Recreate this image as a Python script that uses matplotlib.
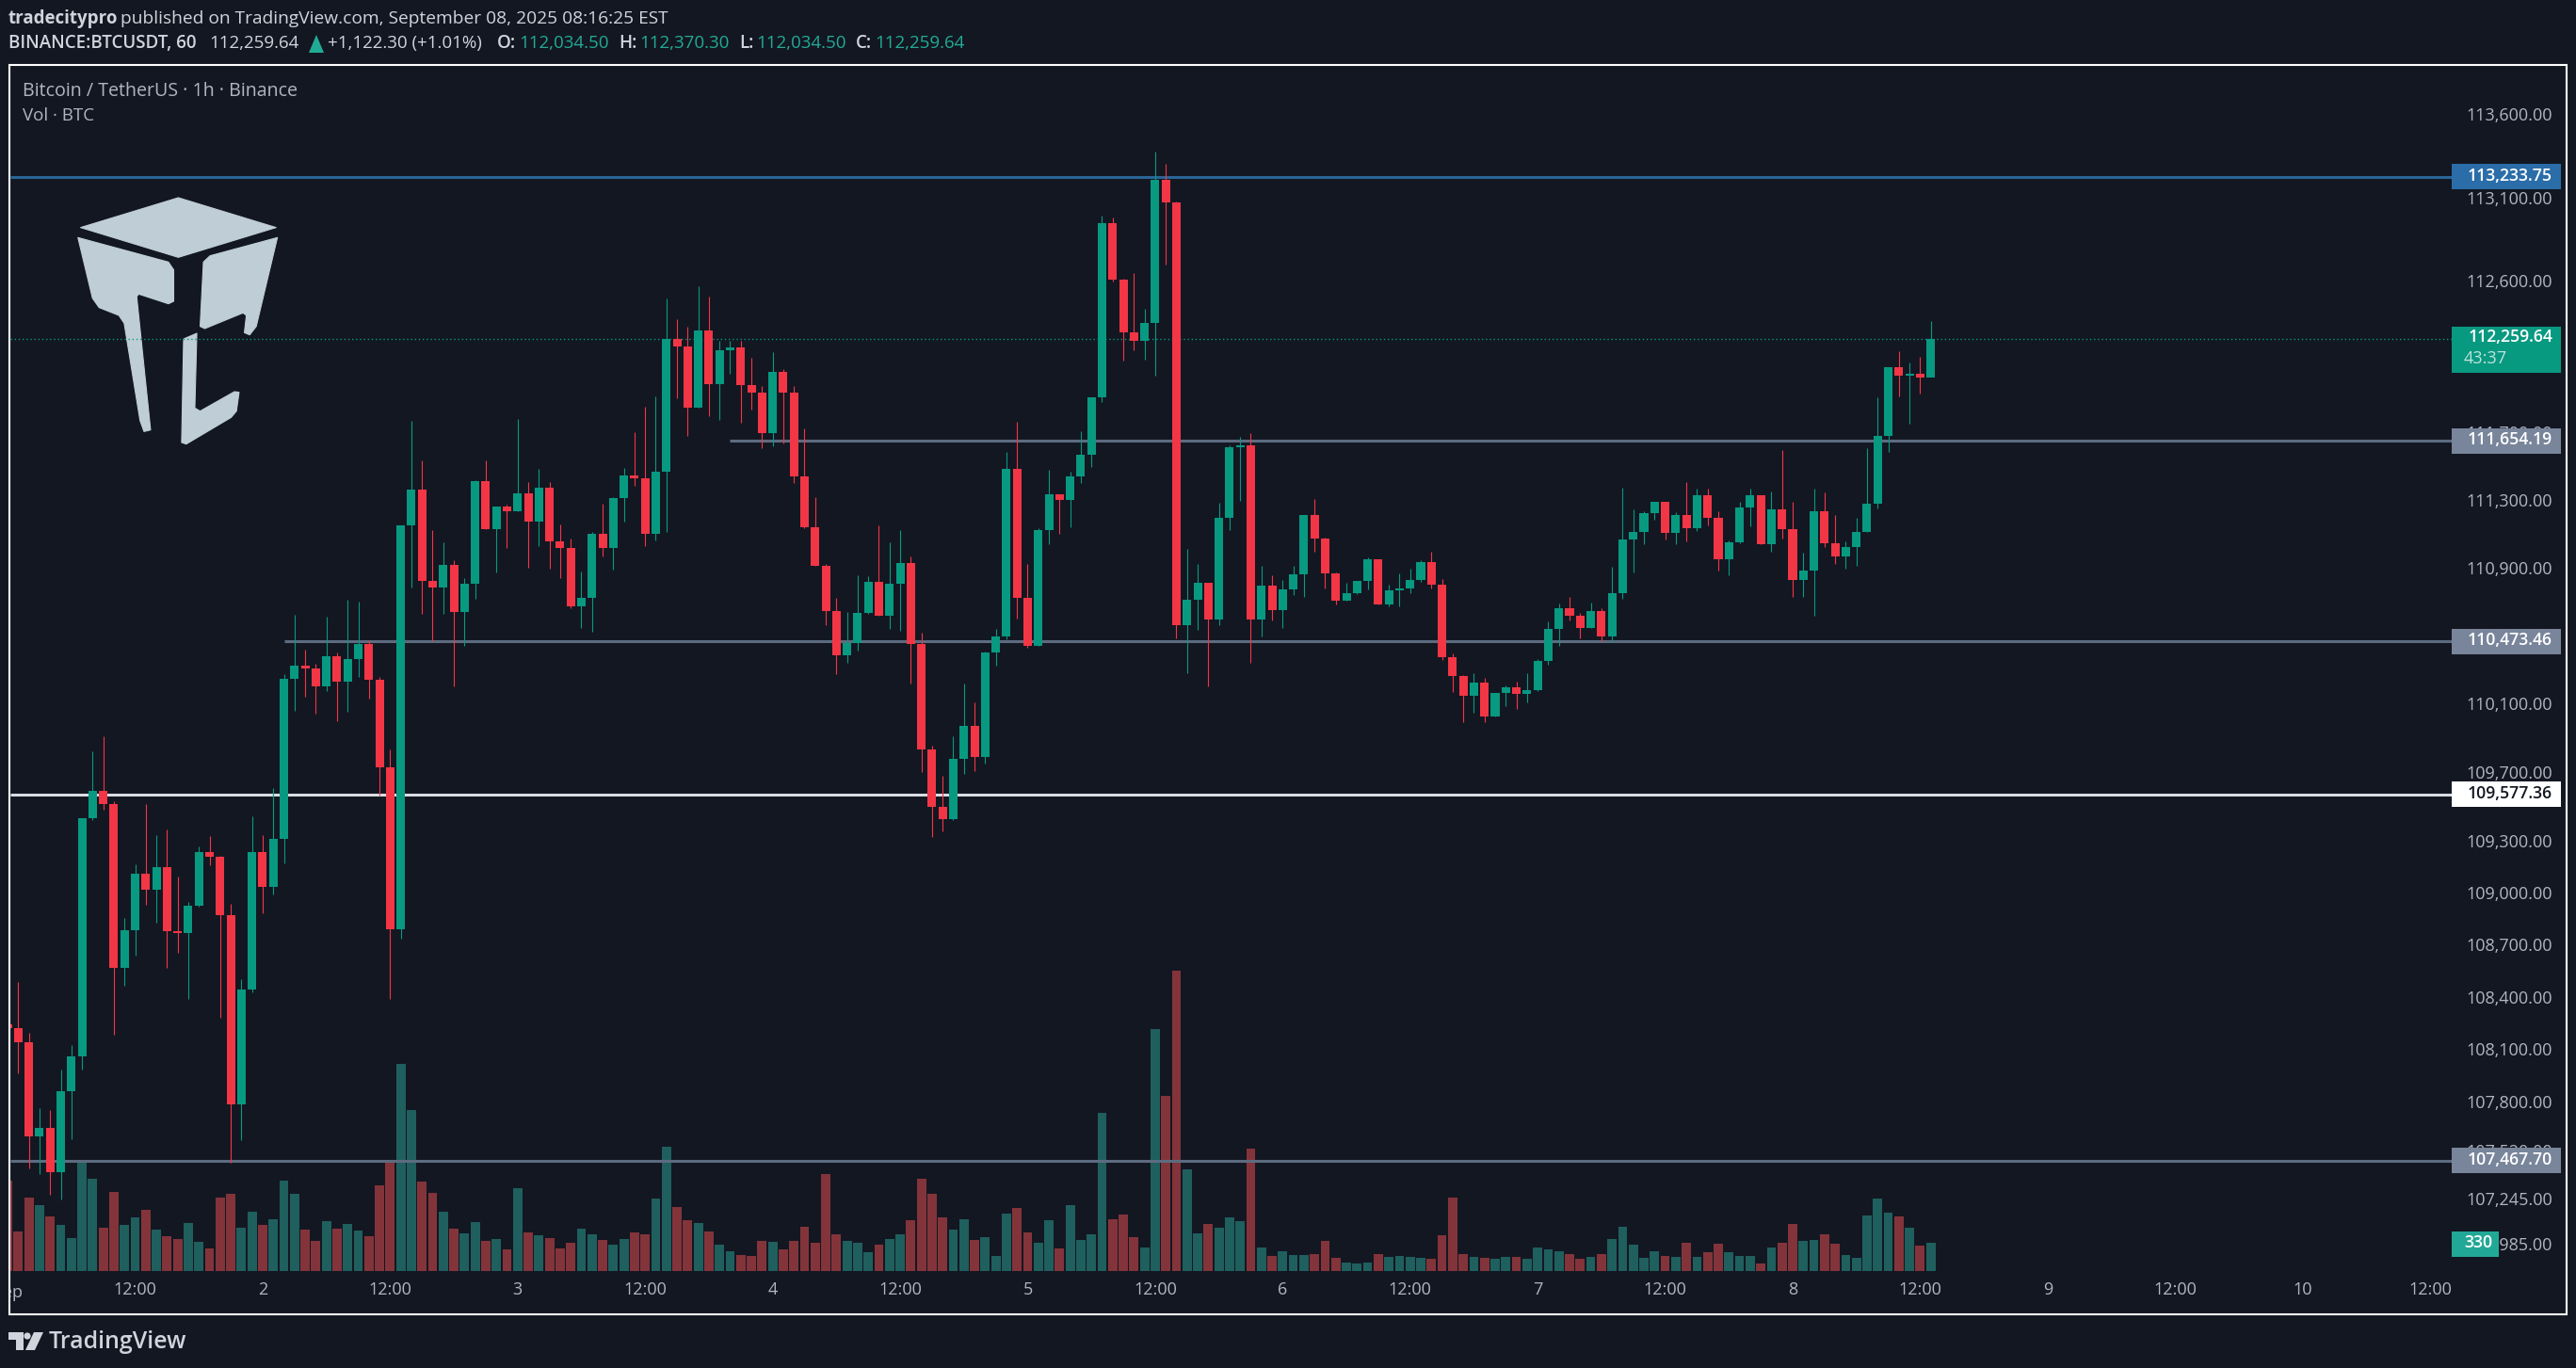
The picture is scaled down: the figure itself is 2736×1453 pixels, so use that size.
import matplotlib
matplotlib.use("Agg")
import matplotlib.pyplot as plt
from matplotlib.patches import Rectangle, Polygon, Circle, FancyBboxPatch
from matplotlib.transforms import Affine2D, Bbox

plt.rcParams['font.family'] = ['Open Sans', 'DejaVu Sans']

BG = '#131722'
UP = '#089981'
DOWN = '#F23645'
VOL_UP = '#1F5F5E'
VOL_DOWN = '#83343A'
TXT = '#B2B5BE'
HEAD = '#D1D4DC'

first_open = 108251
closes = [
108229,108145,107606,107656,107400,107867,108065,109438,109597,109524,
108571,108790,109116,109024,109154,108785,108774,108932,109246,109218,
108876,107792,108451,109241,109040,109318,110254,110330,110313,110209,
110386,110237,110369,110457,110248,109735,108796,111153,111365,110829,
110790,110922,110646,110812,111418,111134,111266,111238,111342,111176,
111376,111060,111021,110679,110726,111103,111020,111314,111452,111434,
111107,111474,112262,112216,111853,112311,111993,112194,112211,111988,
111944,111703,112066,111944,111446,111147,110914,110653,110393,110465,
110642,110820,110625,110813,110936,110458,109842,109508,109437,109788,
109979,109799,110410,110504,111492,110730,110447,111125,111340,111307,
111446,111575,111915,112954,112617,112301,112250,112358,113214,113079,
110568,110718,110819,110602,111202,111618,111630,110602,110801,110658,
110779,110868,111218,111079,110874,110714,110757,110829,110958,110690,
110773,110785,110835,110940,110807,110380,110271,110156,110233,110034,
110172,110205,110167,110189,110359,110547,110669,110625,110553,110653,
110503,110758,111074,111118,111229,111295,111113,111218,111140,111334,
111201,110957,111057,111262,111334,111046,111251,111134,110835,110891,
111240,111052,110974,111030,111118,111285,111684,112093,112043,112054,
112032,112259.64]
highs = [
108473,108490,108201,107770,107759,107987,108129,109438,109828,109915,
109541,108860,109171,109524,109341,109377,109099,108957,109274,109335,
109224,108946,108507,109449,109344,109614,110282,110629,110426,110341,
110618,110409,110719,110708,110479,110265,109839,111153,111774,111540,
111128,111055,110950,110846,111424,111540,111266,111277,111785,111410,
111490,111410,111159,111075,110886,111114,111281,111325,111496,111707,
111860,111920,112502,112380,112335,112575,112513,112251,112251,112251,
112150,111982,112183,112083,111982,111729,111325,110925,110730,110646,
110864,110857,111158,111057,111125,110974,110526,109864,109688,109919,
110223,110116,110414,110548,111590,111768,110925,111140,111485,111340,
111470,111713,111915,113000,112988,112622,112653,112442,113383,113310,
113085,111019,110930,110819,111291,111630,111680,111702,110918,110862,
110835,110918,111218,111313,111085,110880,110819,110829,110968,110958,
110807,110874,110902,110952,111001,110840,110402,110277,110288,110260,
110172,110216,110238,110288,110370,110592,110697,110736,110642,110703,
110669,110913,111379,111251,111240,111295,111295,111235,111412,111373,
111373,111240,111068,111295,111373,111334,111356,111600,111295,110996,
111373,111351,111218,111063,111201,111611,111914,112093,112189,112121,
112155,112370.30]
lows = [
107950,107967,107423,107389,107275,107247,107589,107987,109427,109491,
108190,108468,108643,108940,108832,108571,108660,108396,108926,109166,
108287,107456,107584,108434,108888,108996,109177,110065,110149,110048,
110181,110006,110059,110265,110138,109569,108396,108740,110790,110635,
110474,110635,110209,110446,110722,111134,110877,111021,111238,110905,
111032,110899,110846,110668,110552,110530,110974,110892,111176,111391,
111035,111068,111118,111909,111685,111853,111802,111777,112054,111764,
111842,111612,111623,111641,111408,111140,110914,110570,110282,110349,
110421,110636,110625,110548,110537,110223,109710,109333,109365,109430,
109699,109716,109760,110332,110487,110609,110436,110447,111046,111103,
111147,111408,111503,111886,112607,112134,112194,112138,112044,112706,
110491,110285,110541,110208,110568,111130,111301,110345,110501,110596,
110551,110745,110735,111001,110785,110690,110714,110751,110779,110690,
110680,110680,110757,110825,110785,110364,110178,110002,110057,110002,
110034,110095,110079,110117,110183,110337,110448,110597,110492,110553,
110475,110470,110725,110880,111046,111190,111074,111046,111062,111123,
111157,110891,110862,111052,111151,111046,111002,111079,110735,110735,
110625,111030,110930,110902,110919,111118,111255,111589,111919,111757,
111936,112034.50]
volumes = [
1056,462,858,770,638,539,385,1298,1078,506,
924,539,627,715,484,407,374,561,341,264,
858,902,506,693,539,605,1056,902,484,352,
583,495,550,473,407,1001,1265,2420,1881,1045,
913,693,495,440,572,352,374,253,968,451,
418,385,264,330,495,429,363,308,374,451,
429,847,1452,748,594,561,462,308,231,187,
176,352,341,253,352,517,330,1133,429,352,
330,220,308,374,429,594,1078,902,627,484,
605,363,396,176,671,737,451,330,594,264,
770,363,429,1848,605,660,396,275,2827,2046,
3509,1188,440,550,506,627,583,1430,275,176,
231,187,187,198,352,154,99,88,99,198,
165,176,165,154,143,418,858,198,165,154,
143,165,165,143,275,253,231,198,143,165,
198,374,517,308,154,231,176,165,330,165,
220,319,220,176,176,88,275,330,550,352,
363,429,319,187,154,649,847,682,638,506,
297,330]

price_ticks = [113600,113100,112600,112100,111700,111300,110900,110500,110100,109700,
               109300,109000,108700,108400,108100,107800,107520,107245,106985]
time_ticks = [12,24,36,48,60,72,84,96,108,120,132,144,156,168,180,192,204,216,228]
time_labels = ['12:00','2','12:00','3','12:00','4','12:00','5','12:00','6','12:00',
               '7','12:00','8','12:00','9','12:00','10','12:00']

level_blue = 113233.75
level_white = 109577.36
levels_gray = [111654.19, 110473.46, 107467.70]
level_starts = {111654.19: 68, 110473.46: 26, 107467.70: 0}
last_price = 112259.64

W, H = 2736, 1453
fig = plt.figure(figsize=(W/100, H/100), dpi=100, facecolor=BG)

L, R, T, B = 10.5, 2604, 70, 1350
rect = [L/W, 1-B/H, (R-L)/W, (B-T)/H]
hours = list(range(len(closes)))
x0, x1 = 0.213, 230.03

# volume pane
axv = fig.add_axes(rect, zorder=1, facecolor=BG)
opens = [first_open] + closes[:-1]
vol_cols = [VOL_UP if c >= o else VOL_DOWN for o, c in zip(opens, closes)]
axv.bar(hours, volumes, width=0.87, color=vol_cols, linewidth=0)
axv.set_xlim(x0, x1)
axv.set_ylim(0, 14080)
axv.axis('off')

# price pane
ax = fig.add_axes(rect, zorder=2)
ax.patch.set_visible(False)
ax.set_yscale('log')
ax.set_xlim(x0, x1)
ax.set_ylim(106839.6, 113901)
for s in ax.spines.values():
    s.set_visible(False)

px = Affine2D().scale(1, -1).translate(0, H)

# watermark logo
LOGO = '#BFCED6'
sx, sy = 1/1.4255, 1/3
logo_parts = [
 [(270,630),(418,725),(270,820),(122,725)],
 [(118,757),(255,835),(263,860),(263,960),(255,968),(210,937),(207,945),(228,1370),(218,1375),
  (212,1340),(188,1030),(180,1005),(150,980),(140,950)],
 [(420,757),(318,815),(308,835),(303,1040),(310,1047),(368,997),(373,1005),(370,1060),(378,1067),
  (388,1040)],
 [(298,1062),(278,1080),(275,1410),(282,1415),(350,1330),(358,1310),(362,1250),(355,1248),
  (303,1310),(295,1300)],
]
for part in logo_parts:
    ax.add_patch(Polygon([(a*sx, b*sy) for a, b in part], closed=True, fc=LOGO, ec=LOGO, lw=0.8,
                         joinstyle='round', transform=px, zorder=0.5, clip_on=False))

# horizontal levels
ax.hlines(level_blue, x0, x1, color='#2A6496', lw=2.2, zorder=1)
ax.hlines(level_white, x0, x1, color='#DADCE2', lw=2.2, zorder=1)
for lv in levels_gray:
    ax.hlines(lv, level_starts[lv] if level_starts[lv] else x0, x1, color='#5D6B80', lw=2.2, zorder=1)
ax.hlines(last_price, x0, x1, color=UP, lw=1.0, linestyles=(0, (1, 2)), zorder=1)

# candles
cols = [UP if c >= o else DOWN for o, c in zip(opens, closes)]
ax.vlines(hours, lows, highs, colors=cols, lw=0.8, zorder=3)
bottoms = [min(o, c) for o, c in zip(opens, closes)]
tops = [max(o, c) for o, c in zip(opens, closes)]
ax.bar(hours, [t-b for t, b in zip(tops, bottoms)], bottom=bottoms, width=0.8, color=cols,
       linewidth=0, zorder=4)

# axis labels
FS = 13.0
ax.yaxis.set_ticks_position('right')
ax.set_yticks(price_ticks)
ax.set_yticklabels([f'{p:,.2f}' for p in price_ticks], fontsize=FS, color=TXT, ha='right')
ax.minorticks_off()
ax.tick_params(axis='y', which='both', length=0, pad=(2711-R)*0.72)
ax.set_xticks(time_ticks)
ax.set_xticklabels(time_labels, fontsize=FS, color=TXT)
ax.tick_params(axis='x', length=0, pad=8)

# overlay in figure pixels
ov = fig.add_axes([0, 0, 1, 1], zorder=5)
ov.set_xlim(0, W)
ov.set_ylim(H, 0)
ov.axis('off')
ov.patch.set_visible(False)
fig.canvas.draw()
for tick in ax.yaxis.get_major_ticks():
    tick.label2.set_transform(tick.label2.get_transform() + Affine2D().translate(0, 1.5))

def ypx(price):
    return H - ax.transData.transform((1, price))[1]

# Sep label, clipped by the frame
t = ov.text(ax.transData.transform((0, 110000))[0], 1373, 'Sep', color=TXT, fontsize=FS,
            ha='center', va='center')
t.set_clip_box(Bbox([[L, 0], [W, H]]))
t.set_clip_on(True)

# frame
ov.add_patch(Rectangle((9.5, 69), 2726-9.5, 1396-69, fill=False, ec='white', lw=1.5))

# price labels
def box(y0, y1, color, x_r=2720):
    ov.add_patch(FancyBboxPatch((2604, y0), x_r-2604, y1-y0, boxstyle='square,pad=0',
                                fc=color, ec='none'))

GRAY_BOX = '#78859B'
BOXFS = 12.7
yb = ypx(level_blue)
box(yb-13.5, yb+13.5, '#2A6DA8')
ov.text(2711, yb-1, f'{level_blue:,.2f}', color='white', fontsize=BOXFS, fontweight='semibold', ha='right', va='center')
yw = ypx(level_white)
box(yw-13.5, yw+13.5, 'white')
ov.text(2711, yw-1, f'{level_white:,.2f}', color=BG, fontsize=BOXFS, fontweight='semibold', ha='right', va='center')
for lv in levels_gray:
    yg = ypx(lv)
    box(yg-13.5, yg+13.5, GRAY_BOX)
    ov.text(2711, yg-1, f'{lv:,.2f}', color='white', fontsize=BOXFS, fontweight='semibold', ha='right', va='center')
yl = ypx(last_price)
box(yl-13, yl+36, UP)
ov.text(2711, yl-2, f'{last_price:,.2f}', color='white', fontsize=BOXFS, fontweight='semibold', ha='right', va='center')
ov.text(2617, yl+21, '43:37', color='#BFE3DA', fontsize=FS, ha='left', va='center')
# volume label
yv = H - axv.transData.transform((1, volumes[-1]))[1]
box(yv-12.5, yv+14.5, '#22A897', x_r=2654)
ov.text(2617, yv, f'{volumes[-1]}', color='white', fontsize=BOXFS, fontweight='semibold', ha='left', va='center')

# pane titles
ov.text(24.5, 96.5, 'Bitcoin / TetherUS · 1h · Binance', color=TXT, fontsize=14.1, va='center')
ov.text(24.5, 123, 'Vol · BTC', color=TXT, fontsize=13.5, va='center')

# header
ov.text(9, 20, 'tradecitypro', color=HEAD, fontsize=13.5, fontweight='bold', va='center')
ov.text(127.5, 20, 'published on TradingView.com, September 08, 2025 08:16:25 EST', color=HEAD,
        fontsize=13.8, va='center')
ov.text(9, 46, 'BINANCE:BTCUSDT, 60', color=HEAD, fontsize=13.5, fontweight='semibold', va='center')
ov.text(222, 46, '112,259.64', color=HEAD, fontsize=13.5, va='center')
ov.add_patch(Polygon([(328,56),(344,56),(336,37)], closed=True, fc='#22AB94', ec='none'))
ov.text(348.5, 46, '+1,122.30 (+1.01%)', color=HEAD, fontsize=13.5, va='center')
for lab, lx, val, vx in [('O:',527.5,'112,034.50',551),('H:',657,'112,370.30',679),
                         ('L:',785.5,'112,034.50',803),('C:',909,'112,259.64',929.5)]:
    ov.text(lx, 46, lab, color=HEAD, fontsize=13.5, fontweight='semibold', va='center')
    ov.text(vx, 46, val, color='#22AB94', fontsize=13.5, va='center')

# TradingView footer
ICON = '#D1D4DC'
ov.add_patch(Polygon([(9,1415),(25,1415),(25,1434),(17,1434),(17,1423),(9,1423)], fc=ICON, ec='none'))
ov.add_patch(Circle((29,1419), 3.6, fc=ICON, ec='none'))
ov.add_patch(Polygon([(36,1415),(46,1415),(37,1434),(27,1434)], fc=ICON, ec='none'))
ov.text(52, 1425, 'TradingView', color=ICON, fontsize=17.9, fontweight='semibold', va='center')

fig.savefig('out.png', dpi=100, facecolor=BG)
